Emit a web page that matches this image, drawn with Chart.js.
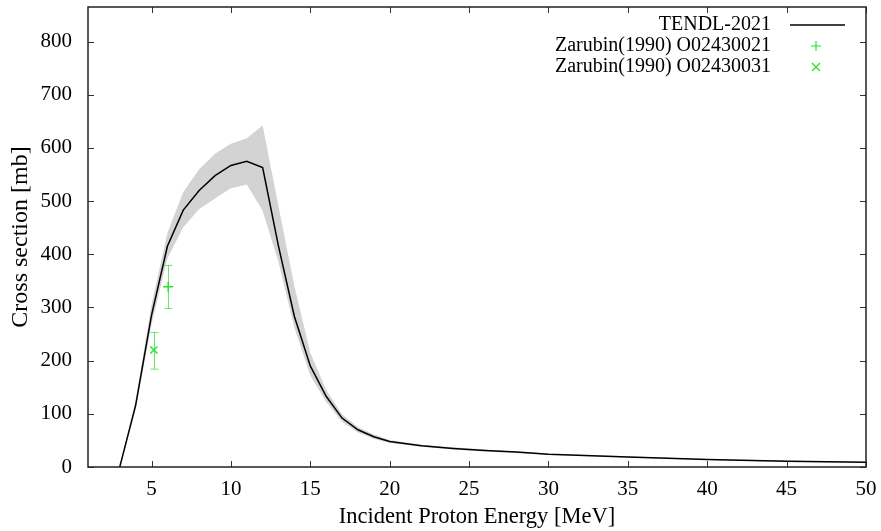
<!DOCTYPE html>
<html>
<head>
<meta charset="utf-8">
<script src="https://cdn.jsdelivr.net/npm/chart.js@4.4.1/dist/chart.umd.min.js"></script>
<style>
  html, body { margin: 0; padding: 0; background: #fff; }
  #wrap { width: 881px; height: 531px; }
</style>
</head>
<body>
<div id="wrap"><canvas id="xs-chart"></canvas></div>
<script>
// TENDL-2021 evaluation (MeV, mb)
const energy = [3, 4, 5, 6, 7, 8, 9, 10, 11, 12, 13, 14, 15, 16, 17, 18, 19, 20, 22, 24, 26, 28, 30, 35, 40, 45, 50];
const tendl = [0, 116, 285, 415, 483, 520, 548, 567, 575, 563, 415, 283, 190, 133, 92, 70, 57, 48, 40, 35, 31, 28, 24, 19, 14, 11, 9];
const bandUpper = [0, 125, 305, 440, 517, 560, 589, 608, 618, 642, 490, 340, 215, 145, 99, 75, 61, 51, 42, 37, 33, 29, 25, 20, 15, 12, 10];
const bandLower = [0, 108, 268, 392, 451, 485, 505, 524, 531, 482, 385, 262, 172, 122, 85, 65, 53, 45, 38, 33, 29, 26, 23, 18, 13, 10, 8];

// EXFOR points
const zar21E = [6.05];
const zar21Y = [339];
const zar21Lo = [298];
const zar21Hi = [379];
const zar31E = [5.15];
const zar31Y = [220];
const zar31Lo = [184];
const zar31Hi = [253];

const xTicks = [5, 10, 15, 20, 25, 30, 35, 40, 45, 50];
const yTicks = [0, 100, 200, 300, 400, 500, 600, 700, 800];

const serif = '"Liberation Serif", "Times New Roman", serif';
const green = 'rgb(40,225,40)';
const greenBar = 'rgba(40,225,40,0.7)';

const pts = (xs, ys) => xs.map((x, i) => ({ x: x, y: ys[i] }));

const legendItems = [
  { text: 'TENDL-2021', kind: 'line' },
  { text: 'Zarubin(1990) O02430021', kind: 'cross' },
  { text: 'Zarubin(1990) O02430031', kind: 'crossRot' }
];

// gnuplot-like frame, inward ticks, error bars, key
const extras = {
  id: 'extras',
  afterDatasetsDraw(chart) {
    const ctx = chart.ctx;
    const a = chart.chartArea;
    const xs = chart.scales.x, ys = chart.scales.y;
    ctx.save();

    // error bars
    ctx.strokeStyle = greenBar;
    ctx.lineWidth = 1;
    const bars = (e, lo, hi) => e.forEach((x, i) => {
      const px = Math.round(xs.getPixelForValue(x)) + 0.5;
      const p1 = ys.getPixelForValue(lo[i]), p2 = ys.getPixelForValue(hi[i]);
      ctx.beginPath();
      ctx.moveTo(px, p1); ctx.lineTo(px, p2);
      ctx.moveTo(px - 4, p1); ctx.lineTo(px + 4, p1);
      ctx.moveTo(px - 4, p2); ctx.lineTo(px + 4, p2);
      ctx.stroke();
    });
    bars(zar21E, zar21Lo, zar21Hi);
    bars(zar31E, zar31Lo, zar31Hi);

    // ticks
    ctx.strokeStyle = '#333';
    ctx.lineWidth = 1;
    ctx.beginPath();
    xTicks.forEach(t => {
      const px = Math.round(xs.getPixelForValue(t)) + 0.5;
      ctx.moveTo(px, a.bottom); ctx.lineTo(px, a.bottom - 6);
      ctx.moveTo(px, a.top); ctx.lineTo(px, a.top + 6);
    });
    yTicks.forEach(t => {
      const py = Math.round(ys.getPixelForValue(t)) + 0.5;
      ctx.moveTo(a.left, py); ctx.lineTo(a.left + 6, py);
      ctx.moveTo(a.right, py); ctx.lineTo(a.right - 6, py);
    });
    ctx.stroke();

    // frame
    ctx.strokeStyle = '#222';
    ctx.lineWidth = 1.5;
    ctx.strokeRect(a.left, a.top, a.right - a.left, a.bottom - a.top);

    // key
    ctx.font = '20px ' + serif;
    ctx.textAlign = 'right';
    ctx.textBaseline = 'middle';
    legendItems.forEach((it, i) => {
      const y = a.top + 18 + i * 21;
      const textX = a.right - 95;
      ctx.fillStyle = '#000';
      ctx.fillText(it.text, textX, y);
      const mx = a.right - 50;
      if (it.kind === 'line') {
        ctx.strokeStyle = '#000';
        ctx.lineWidth = 1.5;
        ctx.beginPath();
        ctx.moveTo(a.right - 76, y); ctx.lineTo(a.right - 21, y);
        ctx.stroke();
      } else {
        ctx.strokeStyle = green;
        ctx.lineWidth = 1.2;
        ctx.beginPath();
        if (it.kind === 'cross') {
          ctx.moveTo(mx - 5, y); ctx.lineTo(mx + 5, y);
          ctx.moveTo(mx, y - 5); ctx.lineTo(mx, y + 5);
        } else {
          ctx.moveTo(mx - 4, y - 4); ctx.lineTo(mx + 4, y + 4);
          ctx.moveTo(mx - 4, y + 4); ctx.lineTo(mx + 4, y - 4);
        }
        ctx.stroke();
      }
    });
    ctx.restore();
  }
};

new Chart(document.getElementById('xs-chart').getContext('2d'), {
  type: 'scatter',
  data: {
    datasets: [
      {
        label: 'TENDL-2021',
        data: pts(energy, tendl),
        showLine: true,
        borderColor: '#000',
        borderWidth: 1.5,
        pointRadius: 0,
        fill: false
      },
      {
        label: 'Zarubin(1990) O02430021',
        data: pts(zar21E, zar21Y),
        pointStyle: 'cross',
        pointRadius: 5,
        borderColor: green,
        backgroundColor: green,
        pointBorderWidth: 1.5
      },
      {
        label: 'Zarubin(1990) O02430031',
        data: pts(zar31E, zar31Y),
        pointStyle: 'crossRot',
        pointRadius: 5,
        borderColor: green,
        backgroundColor: green,
        pointBorderWidth: 1.5
      },
      {
        label: 'upper',
        data: pts(energy, bandUpper),
        showLine: true,
        borderWidth: 0,
        borderColor: 'rgba(0,0,0,0)',
        pointRadius: 0,
        backgroundColor: '#d3d3d3',
        fill: '+1'
      },
      {
        label: 'lower',
        data: pts(energy, bandLower),
        showLine: true,
        borderWidth: 0,
        borderColor: 'rgba(0,0,0,0)',
        pointRadius: 0,
        fill: false
      }
    ]
  },
  options: {
    responsive: true,
    maintainAspectRatio: false,
    animation: false,
    layout: { padding: { top: 7, right: 15, left: 0, bottom: 0 } },
    plugins: {
      legend: { display: false },
      tooltip: { enabled: false }
    },
    scales: {
      x: {
        type: 'linear',
        min: 1,
        max: 50,
        afterBuildTicks: s => { s.ticks = xTicks.map(v => ({ value: v })); },
        afterFit: s => { s.height = 64; s.paddingLeft = 0; s.paddingRight = 0; },
        grid: { display: false, drawTicks: false },
        border: { display: false },
        ticks: { color: '#000', padding: 10, font: { family: serif, size: 21 } },
        title: {
          display: true,
          text: 'Incident Proton Energy [MeV]',
          color: '#000',
          padding: { top: 0, bottom: 0 },
          font: { family: serif, size: 22.5 }
        }
      },
      y: {
        type: 'linear',
        min: 0,
        max: 865,
        afterBuildTicks: s => { s.ticks = yTicks.map(v => ({ value: v })); },
        afterFit: s => { s.width = 88; s.paddingTop = 0; s.paddingBottom = 0; },
        grid: { display: false, drawTicks: false },
        border: { display: false },
        ticks: { color: '#000', padding: 16, font: { family: serif, size: 21 } },
        title: {
          display: true,
          text: 'Cross section [mb]',
          color: '#000',
          padding: { top: 6, bottom: 0 },
          font: { family: serif, size: 24 }
        }
      }
    }
  },
  plugins: [extras]
});
</script>
</body>
</html>
